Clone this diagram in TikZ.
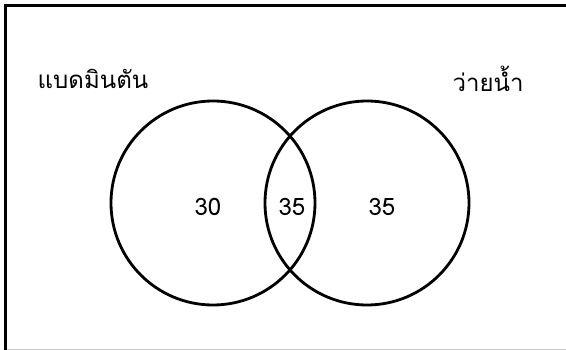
\documentclass[tikz,border=0pt]{standalone}
\usepackage{fontspec}
\newfontfamily\thaifont[Script=Thai]{Loma}
\definecolor{framegray}{RGB}{200,200,200}

\begin{document}
\begin{tikzpicture}[x=1pt,y=-1pt,
    setcircle/.style={circle,draw,line width=2.8pt,minimum size=204pt,inner sep=0pt},
    setlabel/.style={font=\thaifont\fontsize{24}{26}\selectfont},
    count/.style={font=\thaifont\fontsize{24}{26}\selectfont}]
        \useasboundingbox (0,0) rectangle (566,350);
        \draw[framegray,line width=1.5pt] (5,349.5) -- (566,349.5);
        \draw[line width=2.8pt] (5.5,350) -- (5.5,5.5) -- (566,5.5);
        \node[setcircle] (badminton) at (213,203) {};
        \node[setcircle] (swimming) at (367,203) {};
        \node[setlabel] (badmintonlabel) at (93,79) {แบดมินตัน};
        \node[setlabel] (swimminglabel) at (488,79) {ว่ายน้ำ};
        \node[count] (onlybadminton) at (208,207) {30};
        \node[count] (both) at (292,207) {35};
        \node[count] (onlyswimming) at (382,207) {35};
      \end{tikzpicture}
\end{document}
